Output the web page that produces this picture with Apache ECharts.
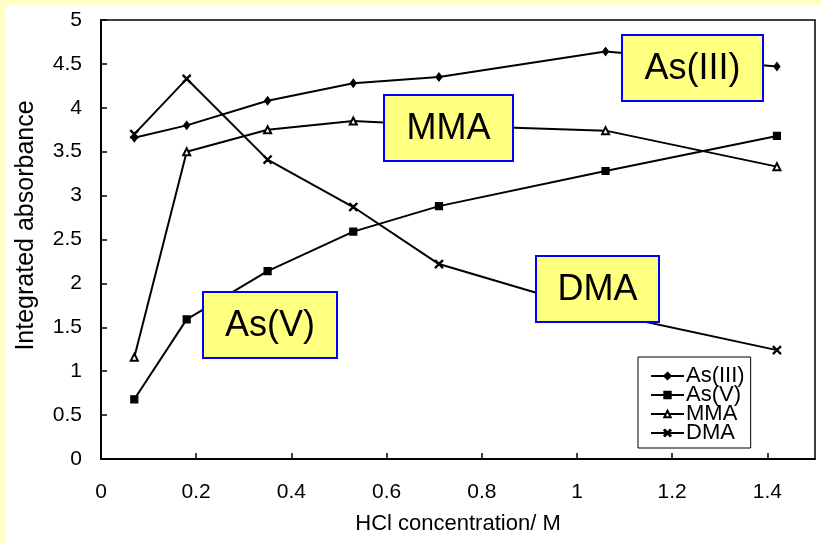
<!DOCTYPE html>
<html>
<head>
<meta charset="utf-8">
<script src="https://cdn.jsdelivr.net/npm/echarts@6/dist/echarts.min.js"></script>
<style>
html,body{margin:0;padding:0;background:#fff;}
#chart{width:821px;height:543px;}
</style>
</head>
<body>
<div id="chart"></div>
<script>
const hcl   = [0.07, 0.18, 0.35, 0.53, 0.71, 1.06, 1.42];
const asIII = [3.66, 3.80, 4.08, 4.28, 4.35, 4.64, 4.47];
const asV   = [0.68, 1.59, 2.14, 2.59, 2.88, 3.28, 3.68];
const mma   = [1.16, 3.50, 3.75, 3.85, 3.80, 3.74, 3.33];
const dma   = [3.70, 4.33, 3.41, 2.87, 2.22, 1.66, 1.24];
const seriesNames = ['As(III)', 'As(V)', 'MMA', 'DMA'];
const xTickLabels = ['0', '0.2', '0.4', '0.6', '0.8', '1', '1.2', '1.4'];
const yTickLabels = ['0', '0.5', '1', '1.5', '2', '2.5', '3', '3.5', '4', '4.5', '5'];
const annotations = ['As(III)', 'MMA', 'DMA', 'As(V)'];

const FONT = '"Liberation Sans", Arial, Helvetica, sans-serif';
const crossPath = 'path://M0,1 L1,0 L5,4 L9,0 L10,1 L6,5 L10,9 L9,10 L5,6 L1,10 L0,9 L4,5 Z';

function pair(ys) { return hcl.map((x, i) => [x, ys[i]]); }

function mkSeries(name, ys, symbol, size) {
  return {
    name: name, type: 'line', data: pair(ys),
    symbol: symbol, symbolSize: size,
    lineStyle: { color: '#000', width: 2 },
    itemStyle: { color: '#000', borderColor: '#000', borderWidth: 1.2 },
    emphasis: { disabled: true },
    z: 3
  };
}

function box(x, y, w, h, label) {
  return [
    { type: 'rect', z: 100, silent: true, shape: { x: x, y: y, width: w, height: h },
      style: { fill: '#ffff80', stroke: '#0000ff', lineWidth: 2 } },
    { type: 'text', z: 101, silent: true, x: x + w / 2, y: y + h / 2 + 1,
      style: { text: label, fontSize: 36, fontFamily: FONT, fill: '#000', align: 'center', verticalAlign: 'middle' } }
  ];
}

const chart = echarts.init(document.getElementById('chart'), null, { renderer: 'canvas' });
chart.setOption({
  animation: false,
  backgroundColor: '#fff',
  graphic: [
    { type: 'rect', z: -10, silent: true, shape: { x: 0, y: 0, width: 821, height: 5 }, style: { fill: '#ffffc6' } },
    { type: 'rect', z: -10, silent: true, shape: { x: 0, y: 0, width: 6, height: 543 }, style: { fill: '#ffffc6' } }
  ].concat(
    box(622, 35, 141, 66, annotations[0]),
    box(384, 95, 129, 66, annotations[1]),
    box(536, 256, 123, 66, annotations[2]),
    box(203, 292, 134, 66, annotations[3])
  ),
  grid: {
    left: 101, right: 6, top: 20, bottom: 84,
    show: true, borderColor: '#000', borderWidth: 1.5, backgroundColor: 'transparent'
  },
  legend: {
    orient: 'vertical', left: 638, top: 357,
    padding: [8, 6, 4, 12], itemGap: -3, itemWidth: 33, itemHeight: 8,
    borderColor: '#000', borderWidth: 1, backgroundColor: '#fff',
    textStyle: { fontSize: 22, lineHeight: 19, fontFamily: FONT, color: '#000', padding: [0, 0, 0, -3] },
    data: seriesNames
  },
  xAxis: {
    type: 'value', min: 0, max: 1.5, interval: 0.2,
    name: 'HCl concentration/ M', nameLocation: 'middle', nameGap: 54,
    nameTextStyle: { fontSize: 22, fontFamily: FONT, color: '#000' },
    axisLine: { show: true, lineStyle: { color: '#000', width: 2 } },
    axisTick: { show: true, inside: true, length: 6, lineStyle: { color: '#000', width: 1.5 } },
    axisLabel: {
      margin: 23, fontSize: 21, fontFamily: FONT, color: '#000', showMaxLabel: false,
      formatter: function (v) { const i = Math.round(v / 0.2); return Math.abs(v - i * 0.2) < 1e-6 && xTickLabels[i] !== undefined ? xTickLabels[i] : ''; }
    },
    splitLine: { show: false }
  },
  yAxis: {
    type: 'value', min: 0, max: 5, interval: 0.5,
    name: 'Integrated absorbance', nameLocation: 'middle', nameGap: 62, nameRotate: 90,
    nameTextStyle: { fontSize: 25, fontFamily: FONT, color: '#000', padding: [0, 0, 0, 28] },
    axisLine: { show: true, lineStyle: { color: '#000', width: 2 } },
    axisTick: { show: true, inside: true, length: 6, lineStyle: { color: '#000', width: 1.5 } },
    axisLabel: {
      margin: 19, fontSize: 21, fontFamily: FONT, color: '#000',
      formatter: function (v) { const i = Math.round(v / 0.5); return yTickLabels[i] !== undefined ? yTickLabels[i] : ''; }
    },
    splitLine: { show: false }
  },
  series: [
    mkSeries(seriesNames[0], asIII, 'diamond', [6, 8]),
    mkSeries(seriesNames[1], asV, 'rect', 7),
    mkSeries(seriesNames[2], mma, 'emptyTriangle', 7),
    mkSeries(seriesNames[3], dma, crossPath, 8)
  ]
});
</script>
</body>
</html>
